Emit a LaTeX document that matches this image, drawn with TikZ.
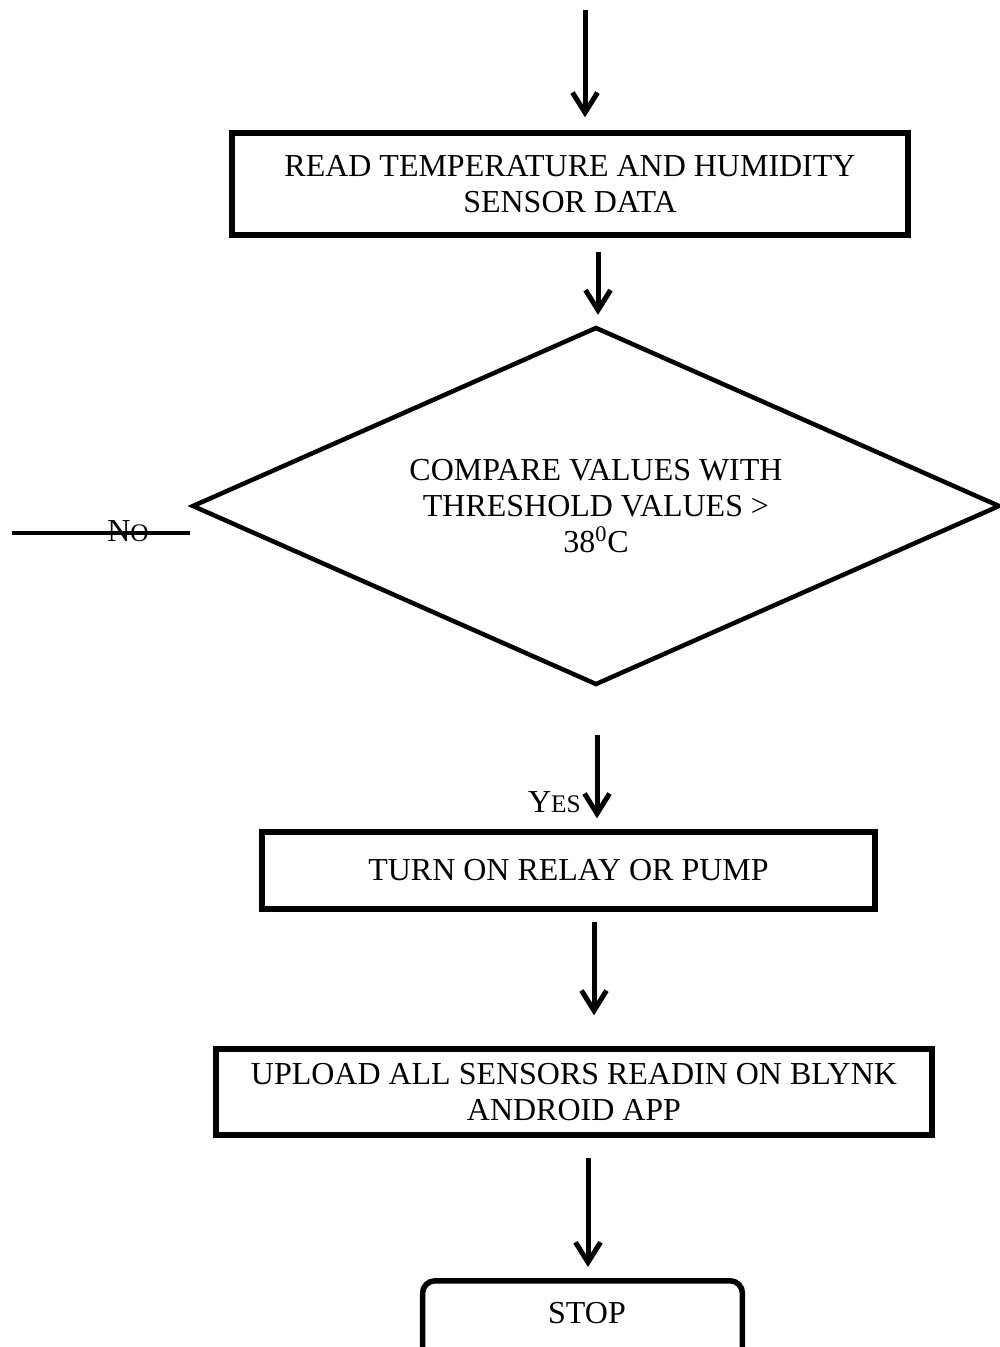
\documentclass[tikz,border=0pt]{standalone}
\usepackage{fontspec}
\setmainfont{Liberation Serif}
\usetikzlibrary{arrows.meta,shapes.geometric}
\begin{document}
\begin{tikzpicture}[x=0.02cm,y=-0.02cm,
  txt/.style={font=\fontsize{18.2}{20.4}\selectfont},
  procbox/.style={draw, line width=0.11cm, align=center, inner sep=0pt, txt},
  decbox/.style={draw, diamond, aspect=2.26, line width=0.09cm, align=center, inner sep=0pt, txt},
  stopbox/.style={draw, rounded corners=0.25cm, line width=0.11cm, txt},
  arr/.style={line width=0.1cm, -{Straight Barb[length=0.4cm,width=0.5cm]},
    preaction={draw=black!30, transform canvas={shift={(0.025cm,-0.04cm)}}}},
  plain/.style={line width=0.09cm}
]
\clip (0,0) rectangle (1000,1347);
\useasboundingbox (0,0) rectangle (1000,1347);

\node[procbox, minimum width=13.52cm, minimum height=2.04cm] (read) at (570,184)
  {READ TEMPERATURE AND HUMIDITY\\SENSOR DATA};
\node[decbox, minimum width=16.16cm, minimum height=7.16cm] (cmp) at (596,506)
  {COMPARE VALUES WITH\\THRESHOLD VALUES >\\38\textsuperscript{0}C};
\node[procbox, minimum width=12.26cm, minimum height=1.54cm] (relay) at (568.5,870.5)
  {TURN ON RELAY OR PUMP};
\node[procbox, minimum width=14.32cm, minimum height=1.72cm] (upload) at (574,1092)
  {UPLOAD ALL SENSORS READIN ON BLYNK\\ANDROID APP};
\node[stopbox, minimum width=6.4cm, anchor=north, inner ysep=0.44cm,
  text height=0.42cm, text depth=1.5cm] (stop) at (582.5,1278) {\hspace*{0.18cm}STOP};

\coordinate (a1) at (585,10);
\coordinate (a2) at (598,252);
\coordinate (a3) at (597,735);
\coordinate (a4) at (594,922);
\coordinate (a5) at (588,1158);
\coordinate (n0) at (12,533);

\draw[arr, shorten >=0.26cm] (a1) -- (a1 |- read.north);
\draw[arr, shorten >=0.2cm] (a2) -- (a2 |- cmp.north);
\draw[arr, shorten >=0.22cm] (a3) -- (a3 |- relay.north);
\draw[arr, shorten >=0.62cm] (a4) -- (a4 |- upload.north);
\draw[arr, shorten >=0.22cm] (a5) -- (a5 |- stop.north);
\draw[plain] (n0) -- (n0 -| cmp.west);

\node[txt, anchor=base, inner sep=0pt] (nolab) at (128,541)
  {N{\fontsize{14.4}{16}\selectfont O}};
\node[txt, anchor=base east, inner sep=0pt] (yeslab) at (581,812)
  {Y{\fontsize{14.4}{16}\selectfont ES}};
\end{tikzpicture}
\end{document}
